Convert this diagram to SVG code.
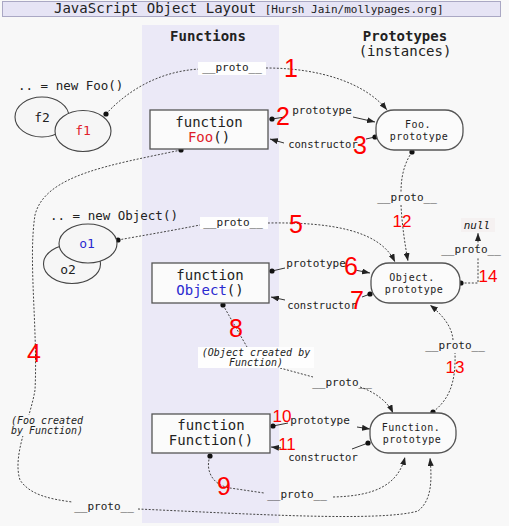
<svg xmlns="http://www.w3.org/2000/svg" width="509" height="526" viewBox="0 0 509 526">
<style>
text{font-family:"DejaVu Sans Mono","Liberation Mono",monospace;fill:#222}
.lbl{font-size:11px;text-anchor:middle}
.it{font-size:10px;font-style:italic;text-anchor:middle}
.fn{font-size:14px;text-anchor:middle}
.pt{font-size:11px;text-anchor:middle}
.ct{font-size:10.5px;text-anchor:middle}
.px{font-size:10px;letter-spacing:0.5px;text-anchor:middle}
.num{font-family:"Liberation Sans",Arial,sans-serif;fill:#f00;text-anchor:middle}
.big{font-size:25px}
.sm{font-size:17px}
.box{fill:#fbfbfb;stroke:#555;stroke-width:1.3}
.ell{fill:#f6f6f6;stroke:#444;stroke-width:1.1}
.dash{fill:none;stroke:#444;stroke-width:1;stroke-dasharray:2 1.6}
.sol{fill:none;stroke:#333;stroke-width:1}
.bg{fill:#f8f8f8}
.wb{fill:#fefefe}
</style>
<defs>
<marker id="arr" viewBox="0 0 8 6" refX="8" refY="3" markerWidth="8" markerHeight="6" markerUnits="userSpaceOnUse" orient="auto"><path d="M0,0 L8,3 L0,6 z" fill="#222"/></marker>
<marker id="dot" viewBox="0 0 6 6" refX="3" refY="3" markerWidth="6" markerHeight="6" markerUnits="userSpaceOnUse"><circle cx="3" cy="3" r="2.6" fill="#111"/></marker>
</defs>
<rect x="0" y="0" width="509" height="526" fill="#f8f8f8"/>
<rect x="142" y="25" width="137" height="498" fill="#ebe9f7"/>
<g id="title">
<rect x="2.5" y="1.5" width="498" height="15" fill="#e6e4f5" stroke="#aaa8c4" stroke-width="1"/>
<text x="54" y="13" style="font-size:14px">JavaScript Object Layout <tspan style="font-size:11px">[Hursh Jain/mollypages.org]</tspan></text>
</g>
<g id="headers">
<text x="208" y="41" style="font-size:14px;font-weight:bold;text-anchor:middle">Functions</text>
<text x="405" y="41" style="font-size:14px;font-weight:bold;text-anchor:middle">Prototypes</text>
<text x="405" y="56" style="font-size:14px;text-anchor:middle">(instances)</text>
</g>
<g id="connectors">
<path class="dash" d="M106,114 C128,90 160,71 200,69 L266,68 C322,68 366,84 387,110" marker-start="url(#dot)" marker-end="url(#arr)"/>
<path class="sol" d="M272,119 L285,117 M353,117 L375,122" marker-start="url(#dot)" marker-end="url(#arr)"/>
<path class="sol" d="M375,137 L366,139 M284,143 L270,139" marker-start="url(#dot)" marker-end="url(#arr)"/>
<path class="dash" d="M181,150 C110,165 45,175 35,215 C28,260 38,330 35,390 C30,420 12,455 20,480 C30,495 50,499 72,502 M138,509 C250,514 380,522 418,511 C432,500 432,480 430,458" marker-start="url(#dot)" marker-end="url(#arr)"/>
<path class="dash" d="M118,240 C140,236 170,231 200,225 L268,223 C330,222 380,230 395,262" marker-start="url(#dot)" marker-end="url(#arr)"/>
<path class="sol" d="M272,271 L285,268 M355,270 L370,273" marker-start="url(#dot)" marker-end="url(#arr)"/>
<path class="sol" d="M370,294 L362,297 M285,300 L271,297" marker-start="url(#dot)" marker-end="url(#arr)"/>
<path class="dash" d="M223,305 L247,347 M280,368 L313,377 M360,387 C375,392 388,402 393,413" marker-start="url(#dot)" marker-end="url(#arr)"/>
<path class="dash" d="M210,456 C205,470 212,485 230,488 L264,493 M333,497 C375,496 398,485 405,457" marker-start="url(#dot)" marker-end="url(#arr)"/>
<path class="sol" d="M273,426 L288,423 M357,427 L370,429" marker-start="url(#dot)" marker-end="url(#arr)"/>
<path class="sol" d="M368,443 L352,449 M281,448 L271,447" marker-start="url(#dot)" marker-end="url(#arr)"/>
<path class="dash" d="M412,152 C403,165 401,180 401,192 M401,205 C402,225 405,245 408,261" marker-start="url(#dot)" marker-end="url(#arr)"/>
<path class="dash" d="M433,412 C448,400 456,385 455,353 M453,340 C452,325 440,313 430,305" marker-start="url(#dot)" marker-end="url(#arr)"/>
<path class="dash" d="M461,283 L478,283 L478,257 M478,246 L478,233" marker-start="url(#dot)" marker-end="url(#arr)"/>
<rect class="wb" x="198" y="62" width="68" height="13"/>
<text class="lbl" x="232" y="71">__proto__</text>
<text class="pt" x="322" y="114">prototype</text>
<text class="ct" x="323" y="148">constructor</text>
<rect class="wb" x="200" y="217" width="68" height="12"/>
<text class="lbl" x="233" y="226">__proto__</text>
<text class="lbl" x="407" y="201">__proto__</text>
<text class="pt" x="316" y="267">prototype</text>
<text class="ct" x="322" y="309">constructor</text>
<rect class="wb" x="198" y="347" width="116" height="21"/>
<text class="it" x="256" y="356">(Object created by</text>
<text class="it" x="256" y="366">Function)</text>
<text class="lbl" x="342" y="386">__proto__</text>
<text class="lbl" x="455" y="349">__proto__</text>
<text class="lbl" x="471" y="253">__proto__</text>
<rect x="461" y="218" width="34" height="14" fill="#f5f1f1"/>
<text x="477" y="229" style="font-size:11px;font-style:italic;text-anchor:middle;fill:#111">null</text>
<text class="pt" x="320" y="424">prototype</text>
<text class="ct" x="323" y="461">constructor</text>
<text class="lbl" x="297" y="498">__proto__</text>
<rect class="bg" x="9" y="415" width="76" height="21"/>
<text class="it" x="47" y="424">(Foo created</text>
<text class="it" x="47" y="434">by Function)</text>
<text class="lbl" x="104" y="510">__proto__</text>
<text class="num big" x="291" y="77">1</text>
<text class="num big" x="283" y="125">2</text>
<text class="num big" x="360" y="154">3</text>
<text class="num big" x="34" y="362">4</text>
<text class="num big" x="296" y="233">5</text>
<text class="num big" x="351" y="275">6</text>
<text class="num big" x="357" y="309">7</text>
<text class="num big" x="236" y="337">8</text>
<text class="num big" x="224" y="495">9</text>
<text class="num sm" x="282" y="422">10</text>
<text class="num sm" x="287" y="450">11</text>
<text class="num sm" x="402" y="227">12</text>
<text class="num sm" x="455" y="373">13</text>
<text class="num sm" x="488" y="282">14</text>
</g>
<g id="newFoo">
<text x="18" y="90" style="font-size:12.5px">.. = new Foo()</text>
</g>
<g id="f2"><ellipse class="ell" cx="42" cy="117" rx="27" ry="20"/><text x="42" y="122" style="font-size:13px;text-anchor:middle">f2</text></g>
<g id="f1"><ellipse class="ell" cx="83" cy="131" rx="28" ry="20.5"/><text x="83" y="135" style="font-size:13px;text-anchor:middle;fill:#e0202a">f1</text></g>
<g id="newObject">
<text x="50" y="220" style="font-size:12.5px">.. = new Object()</text>
</g>
<g id="o2"><ellipse class="ell" cx="72" cy="264" rx="28.5" ry="19.5"/><text x="68" y="274" style="font-size:13px;text-anchor:middle">o2</text></g>
<g id="o1"><ellipse class="ell" cx="88" cy="243.5" rx="29" ry="19.5"/><text x="87" y="248" style="font-size:13px;text-anchor:middle;fill:#2a2ad0">o1</text></g>
<g id="functionFoo">
<rect class="box" x="150" y="110" width="118" height="39"/>
<text class="fn" x="209" y="127">function</text>
<text class="fn" x="209" y="142"><tspan fill="#e0202a">Foo</tspan>()</text>
</g>
<g id="functionObject">
<rect class="box" x="152" y="263" width="117" height="40"/>
<text class="fn" x="210" y="280">function</text>
<text class="fn" x="210" y="295"><tspan fill="#2a2ad0">Object</tspan>()</text>
</g>
<g id="functionFunction">
<rect class="box" x="152" y="414" width="118" height="39"/>
<text class="fn" x="211" y="430">function</text>
<text class="fn" x="211" y="445">Function()</text>
</g>
<g id="fooPrototype">
<rect class="box" x="376" y="110" width="87" height="40" rx="18"/>
<text class="px" x="418" y="128">Foo.</text>
<text class="px" x="419" y="140">prototype</text>
</g>
<g id="objectPrototype">
<rect class="box" x="371" y="263" width="89" height="40" rx="18"/>
<text class="px" x="412" y="281">Object.</text>
<text class="px" x="414" y="293">prototype</text>
</g>
<g id="functionPrototype">
<rect class="box" x="370" y="413" width="86" height="40" rx="18"/>
<text class="px" x="411" y="431">Function.</text>
<text class="px" x="412" y="443">prototype</text>
</g>
</svg>
